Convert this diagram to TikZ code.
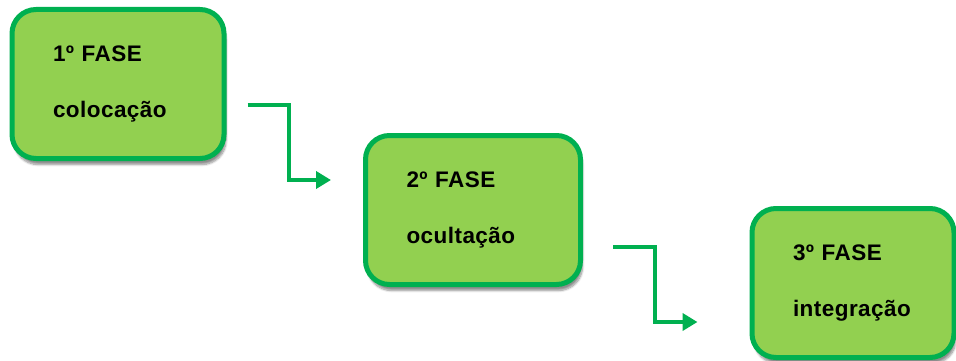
\documentclass[tikz,border=0pt]{standalone}
\usepackage{fontspec}
\setmainfont{Liberation Sans}
\newfontfamily\fasefont[LetterSpace=2]{Liberation Sans}
\usetikzlibrary{arrows.meta}
\usetikzlibrary{calc}
\usetikzlibrary{shadows.blur}
\definecolor{fasefill}{RGB}{146,208,80}
\definecolor{faseline}{RGB}{0,176,80}
\begin{document}
\begin{tikzpicture}[x=1pt,y=-1pt,
    fase/.style={draw=faseline,fill=fasefill,line width=5pt,rounded corners=24pt,
      align=left,inner xsep=41pt,minimum height=149pt,
      font=\fasefont\bfseries\fontsize{22.5}{56}\selectfont,
      blur shadow={shadow xshift=2pt,shadow yshift=-6pt,shadow blur steps=8,shadow opacity=45}},
    seta/.style={draw=faseline,line width=4pt,-{Triangle[length=15pt,width=17pt]}}]
  \useasboundingbox (0,0) rectangle (956,361);
  \node[fase,text width=130pt] (f1) at (118,84) {1º FASE\\colocação};
  \node[fase,text width=133pt] (f2) at (473,210) {2º FASE\\ocultação};
  \node[fase,text width=120pt] (f3) at (853,283) {3º FASE\\integração};
  % ligacoes
  \coordinate (s1) at ([shift={(21,21)}]f1.east);
  \coordinate (e1) at ([shift={(-32,-30)}]f2.west);
  \coordinate (s2) at ([shift={(30,37)}]f2.east);
  \coordinate (e2) at ([shift={(-52,39)}]f3.west);
  \draw[seta] (s1) -| ($(s1)!.5!(e1)$) |- (e1);
  \draw[seta] (s2) -| ($(s2)!.5!(e2)$) |- (e2);
\end{tikzpicture}
\end{document}
